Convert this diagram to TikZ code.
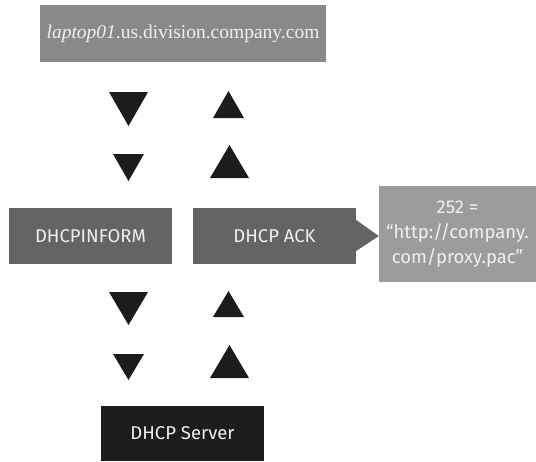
\documentclass[tikz,border=0pt]{standalone}
\usepackage{fontspec}
\setmainfont{Liberation Serif}
\newfontfamily\labelsans{Fira Sans}
\definecolor{topgray}{HTML}{888988}
\definecolor{midgray}{HTML}{636463}
\definecolor{pacgray}{HTML}{9C9C9C}
\definecolor{darkbox}{HTML}{1C1C1C}
\definecolor{lighttext}{HTML}{F0F0F0}
\begin{document}
\begin{tikzpicture}[x=1pt,y=-1pt,
  box/.style={rectangle,inner sep=0pt,text=lighttext,font=\labelsans\fontsize{18.5}{25}\selectfont,align=center},
  tri/.style={fill=darkbox}]
\useasboundingbox (0,0) rectangle (536,461);
% top client box
\node[box,fill=topgray,minimum width=286pt,minimum height=57pt,font=\fontsize{19.5}{22}\selectfont] (client) at (183,33.5) {\textit{laptop01}.us.division.company.com};
% middle boxes
\node[box,fill=midgray,minimum width=163pt,minimum height=56pt] (inform) at (90.5,236) {DHCPINFORM};
\node[box,fill=midgray,minimum width=163pt,minimum height=56pt] (ack) at (274.5,236) {DHCP ACK};
\node[box,fill=pacgray,minimum width=157pt,minimum height=96pt] (pac) at (457.5,234) {252 =\\“http://company.\\com/proxy.pac”};
\fill[midgray] (ack.east |- 0,220) -- (pac.west |- 0,236) -- (ack.east |- 0,251) -- cycle;
% server
\node[box,fill=darkbox,minimum width=163pt,minimum height=55pt] (server) at (182.5,433.5) {DHCP Server};
% triangles between client and inform/ack
\fill[tri] (109,92) -- (148,92) -- (128.5,126) -- cycle;
\fill[tri] (113,154) -- (144,154) -- (128.5,181) -- cycle;
\fill[tri] (213,118) -- (244,118) -- (228.5,91) -- cycle;
\fill[tri] (210,178) -- (249,178) -- (229.5,145) -- cycle;
% triangles between inform/ack and server
\fill[tri] (109,292) -- (148,292) -- (128.5,325) -- cycle;
\fill[tri] (113,354) -- (144,354) -- (128.5,380) -- cycle;
\fill[tri] (213,317) -- (244,317) -- (228.5,291) -- cycle;
\fill[tri] (210,378) -- (249,378) -- (229.5,345) -- cycle;
\end{tikzpicture}
\end{document}
